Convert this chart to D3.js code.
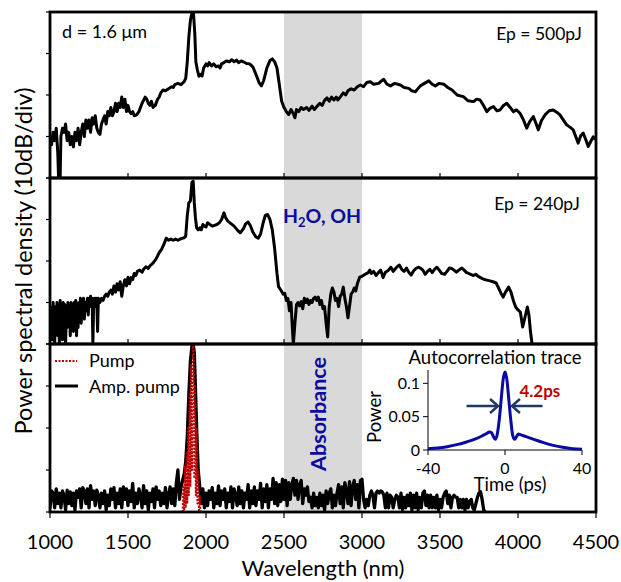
<!DOCTYPE html>
<html><head><meta charset="utf-8">
<script src="https://cdn.jsdelivr.net/npm/d3@7"></script>
<style>
body{margin:0;background:#fff;}
text{font-family:Lato,"Open Sans",sans-serif;}
</style>
</head><body>
<svg id="c" width="621" height="582"></svg>
<script>
// ---------------- DATA ----------------
const xTicks = [1000,1500,2000,2500,3000,3500,4000,4500];
const yTicksDb = [0,10,20,30,40];
const absorbBand = [2500,3000];
const panelLabels = ["Ep = 500pJ","Ep = 240pJ"];

// Ep = 500 pJ spectrum  [wavelength nm, relative dB]
const spectrum500 = [[1000,10],[1010,8],[1020,11],[1030,9],[1040,12],[1050,6],[1055,0],[1065,0],[1070,10],[1080,12],[1090,11],[1100,13],[1110,9],[1120,11],[1130,8],[1140,10],[1150,7.5],[1160,11],[1170,9],[1180,12],[1190,8],[1200,11],[1210,13],[1220,10],[1230,14],[1240,12],[1250,14],[1260,11],[1270,14.5],[1280,13],[1290,15],[1300,12],[1310,11],[1320,10.5],[1330,13],[1340,14],[1350,15],[1360,13],[1370,16],[1380,15],[1390,17],[1400,15],[1410,16],[1420,18],[1430,16],[1440,18],[1450,17],[1460,19.5],[1470,17],[1480,19],[1490,16],[1500,17.5],[1510,16],[1520,15.5],[1530,16],[1540,15],[1555,15.2],[1570,16],[1590,18],[1610,19.5],[1620,19],[1630,18],[1640,17.5],[1650,18.5],[1660,17],[1675,17.5],[1690,19],[1700,19.5],[1710,20.5],[1725,21.2],[1740,21],[1760,21.5],[1780,22],[1790,21.8],[1800,22.5],[1820,22.8],[1840,22.5],[1860,23.2],[1870,24],[1880,28],[1890,34],[1900,38],[1910,39.8],[1920,39.6],[1928,35],[1935,28],[1945,26],[1955,24.5],[1965,25],[1975,24.6],[1985,26.5],[2000,27.5],[2010,27],[2020,27.8],[2035,27],[2050,27.5],[2065,26.8],[2080,27],[2090,26.5],[2100,27.5],[2115,27.8],[2130,28.2],[2150,28],[2165,28.5],[2180,28],[2195,28.4],[2210,27.8],[2225,28.2],[2240,28],[2260,27.6],[2280,27.5],[2300,26.8],[2320,25],[2340,23],[2355,22.2],[2370,23.5],[2390,26.5],[2410,28.3],[2425,28.7],[2440,28],[2455,26.5],[2470,22.5],[2485,18.5],[2500,17],[2515,16],[2530,15.3],[2545,16.5],[2560,15.5],[2570,14.5],[2580,16.5],[2595,16],[2610,17],[2625,16.5],[2645,17],[2660,16.3],[2680,17.3],[2695,16.5],[2710,17.2],[2730,18],[2745,17.5],[2760,18.7],[2775,19.3],[2790,18.5],[2805,19.5],[2820,18.8],[2835,19.5],[2845,18.8],[2860,19.5],[2880,20.5],[2895,20],[2910,21],[2930,21.5],[2950,21.2],[2970,22],[2990,22.4],[3010,22],[3030,23],[3053,23.2],[3075,22.6],[3107,22.8],[3125,23.4],[3139,23.8],[3160,22.6],[3182,22.2],[3210,22.8],[3246,22.4],[3270,21.8],[3300,21.6],[3320,21],[3342,20.8],[3360,21.6],[3374,22.2],[3400,22.8],[3428,23.4],[3450,22.6],[3470,22.2],[3495,22.8],[3524,22.6],[3550,21.8],[3577,21.2],[3610,20],[3630,19.8],[3650,19.6],[3680,18.6],[3715,18.4],[3735,19],[3757,18.8],[3780,17.4],[3800,16],[3820,16.8],[3843,17.2],[3865,16.2],[3885,16.4],[3905,17.4],[3928,18],[3950,17],[3970,16],[3990,16.4],[4013,15.6],[4035,14],[4056,12],[4075,13.6],[4098,14.8],[4115,13.2],[4130,11.6],[4150,13.8],[4173,15.2],[4200,16.2],[4226,16.4],[4250,15.8],[4269,15.2],[4290,14],[4312,12.8],[4335,12.2],[4354,11.6],[4370,10],[4386,8.4],[4402,10.2],[4418,10.8],[4435,9.2],[4450,7.6],[4466,8.8],[4482,9.9],[4500,9.2]];

// Ep = 240 pJ spectrum
const spectrum240 = [[1000,9],[1005,3],[1010,8],[1015,1],[1020,10],[1025,5],[1030,0],[1035,9],[1040,4],[1045,10],[1050,2],[1055,8],[1060,0],[1065,10.5],[1070,6],[1075,9],[1080,1],[1085,10],[1090,3],[1095,9.5],[1100,0],[1105,8],[1110,4],[1115,10],[1120,6],[1125,9],[1130,2],[1135,10],[1140,5],[1145,9.5],[1150,3],[1155,10],[1160,7],[1165,10.5],[1170,2],[1175,9],[1180,4],[1185,10],[1190,6],[1195,11],[1200,5],[1205,10],[1210,7],[1215,11],[1220,6],[1225,10],[1230,8],[1240,11],[1245,7],[1250,10.5],[1260,11.5],[1265,9],[1270,11],[1275,0],[1280,10.5],[1285,11],[1290,9],[1295,11],[1300,10],[1305,3],[1310,11],[1320,10],[1330,11],[1340,10.5],[1350,11.5],[1360,12],[1370,11.5],[1380,12.5],[1390,13],[1400,12],[1410,14],[1420,12.5],[1430,14.5],[1440,13],[1450,15],[1460,11.5],[1470,14],[1480,15.5],[1490,14],[1500,16.1],[1510,14.5],[1520,16],[1530,15.5],[1540,17],[1550,16.5],[1560,17.5],[1575,17.8],[1590,17.3],[1600,18],[1615,18.6],[1630,18.2],[1640,18.8],[1660,19.5],[1680,20.5],[1700,22],[1715,22.8],[1730,24],[1745,25.5],[1760,25],[1775,25.3],[1790,25],[1805,25.3],[1820,25],[1840,25.4],[1860,25.6],[1870,26],[1880,31],[1890,34],[1900,34.5],[1910,39],[1918,39.2],[1925,34],[1932,30.5],[1940,28],[1950,27.5],[1960,28],[1970,27.5],[1980,28.8],[1990,28.4],[2000,28.2],[2010,29.2],[2025,28.8],[2040,28.4],[2055,28.6],[2070,28.8],[2085,29.2],[2100,30],[2115,31.6],[2125,30.5],[2140,29.6],[2160,29],[2180,28.4],[2200,27.5],[2220,26.8],[2240,27.8],[2255,29],[2270,29.4],[2285,28.5],[2300,27],[2320,25.8],[2335,25.5],[2350,26.5],[2365,29],[2380,31],[2395,31.2],[2410,30],[2425,27.5],[2440,23],[2455,17],[2465,13.8],[2480,13],[2495,12],[2505,12.2],[2515,10.5],[2525,11],[2535,8],[2545,10],[2555,3],[2560,0],[2570,5],[2580,9.5],[2590,10],[2600,9.2],[2610,10.2],[2620,8.5],[2630,11],[2640,10],[2650,10.8],[2660,9.5],[2670,10.5],[2680,10],[2690,11],[2700,11.3],[2710,10.5],[2720,11.3],[2730,9.5],[2740,10.5],[2750,8.5],[2760,9],[2770,5],[2780,1.7],[2790,9],[2800,12],[2810,13.5],[2820,12.5],[2830,10.5],[2840,11],[2850,9],[2860,11.5],[2870,12],[2880,13.7],[2890,11],[2900,9],[2910,6.3],[2920,9],[2930,12],[2940,12.5],[2950,13.5],[2960,12.8],[2970,14.5],[2985,16.1],[3000,16.3],[3020,16.8],[3040,17.2],[3050,17.8],[3060,17],[3075,17.5],[3090,16.5],[3105,17.2],[3120,17.8],[3135,16],[3150,17.3],[3170,17.8],[3185,18.5],[3200,17.5],[3215,18.2],[3230,18.8],[3240,19],[3255,18],[3270,17.5],[3285,18.3],[3300,17.3],[3315,16.6],[3330,17.6],[3345,18.2],[3360,18.5],[3375,18.3],[3390,17.8],[3405,16.8],[3420,17.5],[3435,18],[3450,17.2],[3465,18],[3480,18.5],[3495,17.8],[3510,17],[3530,16.8],[3545,17.5],[3560,18.3],[3575,18.2],[3590,17.8],[3605,17.3],[3620,17.8],[3640,18.3],[3655,17.8],[3670,17.2],[3685,17],[3700,16.7],[3715,16.5],[3730,16.8],[3745,16.3],[3760,16],[3780,15.6],[3800,15.4],[3820,15.2],[3840,15],[3860,14.7],[3875,13.5],[3890,12.3],[3905,11.3],[3920,12.5],[3940,13.7],[3955,12.5],[3970,10.5],[3985,8.9],[4000,8.2],[4015,7.7],[4030,4.1],[4045,6.5],[4060,8.9],[4070,7],[4080,3],[4090,0]];

// Amplified pump
const ampPump = [[1000,1],[1010,5],[1020,4.5],[1030,1],[1040,5.5],[1050,2],[1060,4.5],[1070,1],[1080,5],[1090,4],[1100,0.5],[1110,5.2],[1120,2],[1130,4.8],[1140,1.5],[1150,4.5],[1160,0.5],[1170,5],[1180,3.5],[1190,5.5],[1200,1],[1210,5.8],[1220,5],[1230,2],[1240,5.5],[1250,1],[1260,6.3],[1270,3],[1280,5],[1290,1.5],[1300,5.2],[1310,4],[1320,1],[1330,4.5],[1340,2],[1350,5],[1360,0.5],[1370,4],[1380,1.5],[1390,5.5],[1400,3],[1410,5.8],[1420,1],[1430,4.5],[1440,2],[1450,5.5],[1460,1],[1470,6],[1480,3],[1490,5.5],[1500,1.5],[1510,5],[1520,2.5],[1530,6.8],[1540,1],[1550,4.5],[1560,2],[1570,5.5],[1580,4],[1590,1],[1600,6.3],[1610,2],[1620,5],[1630,0.5],[1640,4.5],[1650,2.5],[1660,5.5],[1670,1],[1680,6],[1690,3],[1700,5],[1710,1.5],[1720,4.5],[1730,2],[1740,5.8],[1750,1],[1760,4],[1770,6],[1780,2],[1790,5.5],[1800,1.5],[1810,7],[1820,10],[1830,3],[1840,6],[1850,7.5],[1860,9],[1870,12],[1880,18],[1890,28],[1900,36],[1910,39.5],[1918,39.8],[1925,38],[1932,30],[1940,20],[1950,10],[1960,6],[1970,2],[1980,5.5],[1990,1],[2000,4.5],[2010,1.5],[2020,5],[2030,3],[2040,5.8],[2050,1],[2060,4.5],[2070,2],[2080,6.2],[2090,1.5],[2100,5],[2110,3],[2120,5.5],[2130,1],[2140,4.5],[2150,2.5],[2160,6],[2170,1],[2180,5.5],[2190,4],[2200,1.5],[2210,6],[2220,2],[2230,5],[2240,1],[2250,4.5],[2260,3],[2270,6.5],[2280,1],[2290,5],[2300,2],[2310,6],[2320,1.5],[2330,5],[2340,3],[2350,6.8],[2360,1],[2370,5.5],[2380,2.5],[2390,6.5],[2400,1],[2410,5.5],[2420,3],[2430,8],[2440,2],[2450,7],[2460,1.5],[2470,6.5],[2480,2.5],[2490,7.8],[2500,3],[2510,7.5],[2520,1.5],[2530,7],[2540,3],[2550,6.5],[2560,8],[2570,4],[2580,7.5],[2590,3],[2600,6.5],[2610,7.5],[2620,2],[2630,5.5],[2640,4],[2650,6],[2660,2.5],[2670,3.5],[2680,1],[2690,4.5],[2700,1.5],[2710,3.5],[2720,1],[2730,4.5],[2740,1.5],[2750,4],[2760,0.5],[2770,5],[2780,2],[2790,4.5],[2800,5.5],[2810,1],[2820,4],[2830,1.5],[2840,4.5],[2850,6.5],[2860,2],[2870,6],[2880,1],[2890,7],[2900,5],[2910,2],[2920,7.2],[2930,1.5],[2940,6],[2950,7.5],[2960,3],[2970,6.5],[2980,1],[2990,7.5],[3000,7.8],[3010,3],[3020,1],[3030,3],[3040,1.5],[3050,4],[3060,5],[3070,4],[3080,1],[3090,4.5],[3100,5],[3110,4.5],[3120,5],[3130,4.8],[3140,4],[3150,1],[3160,4.5],[3170,1],[3180,4],[3190,3.5],[3200,1],[3210,3],[3220,4],[3230,3.5],[3240,1],[3250,4.5],[3260,0.5],[3270,3.5],[3280,1],[3290,4],[3300,1.5],[3310,4.5],[3320,0.5],[3330,4],[3340,1],[3350,4.5],[3360,0.5],[3370,3.5],[3380,1],[3390,4.5],[3400,5],[3410,1.5],[3420,4],[3430,1],[3440,4],[3450,1],[3460,3.5],[3470,1],[3480,4],[3490,0.5],[3500,3],[3510,1],[3520,3.5],[3530,4.5],[3540,5],[3550,2],[3560,4],[3570,1],[3580,3.5],[3590,4],[3600,3.5],[3610,3.5],[3620,1],[3630,3],[3640,1],[3650,3],[3660,0.5],[3670,3],[3680,1],[3690,2.5],[3700,3],[3710,1],[3720,0.5],[3730,2],[3740,3.5],[3750,4.5],[3760,4.8],[3770,3],[3780,0.5],[3790,0]];

// Seed pump
const pump = [[1850,0],[1855,6],[1860,0],[1865,11],[1870,1],[1875,14],[1880,2],[1885,20],[1890,4],[1895,28],[1900,6],[1905,35],[1910,10],[1915,39],[1918,40],[1922,38],[1925,8],[1930,30],[1935,4],[1940,20],[1945,2],[1950,10],[1955,0],[1960,4],[1965,0]];

// Autocorrelation trace
const acTime  = [-40,-35,-30,-25,-20,-15,-12,-10,-8,-7,-6,-5,-4,-3,-2,-1,0,1,2,3,4,5,6,7,8,10,12,15,20,25,30,35,40];
const acPower = [0.002,0.003,0.005,0.008,0.012,0.017,0.021,0.024,0.027,0.026,0.02,0.016,0.024,0.045,0.075,0.105,0.117,0.105,0.075,0.045,0.022,0.016,0.02,0.024,0.023,0.021,0.019,0.016,0.011,0.007,0.004,0.002,0.001];
const acXTicks = [-40,0,40];
const acYTicks = [0,0.05,0.1];
const acArrows = [[-20,-3.6],[19.5,3.6]];
const acArrowLevel = 0.066;
const fwhmLabel = "4.2ps";

// ---------------- DRAW ----------------
const svg = d3.select("#c");
const L = 50, R = 596;
const panels = [{t:12,b:178},{t:178,b:344},{t:344,b:512}];
const x = d3.scaleLinear().domain([1000,4500]).range([L,R]);
const ys = panels.map(p => d3.scaleLinear().domain([0,40]).range([p.b,p.t]));

// absorbance band
svg.append("rect").attr("x",x(absorbBand[0])).attr("y",panels[0].t)
  .attr("width",x(absorbBand[1])-x(absorbBand[0])).attr("height",panels[2].b-panels[0].t)
  .attr("fill","#d9d9d9");

// clip paths
panels.forEach((p,i)=>{
  svg.append("clipPath").attr("id","clip"+i).append("rect")
    .attr("x",L).attr("y",p.t).attr("width",R-L).attr("height",p.b-p.t);
});

function drawLine(data,i,stroke,w,dash){
  const line = d3.line().x(d=>x(d[0])).y(d=>ys[i](d[1]));
  const p = svg.append("path").datum(data).attr("d",line)
    .attr("fill","none").attr("stroke",stroke).attr("stroke-width",w)
    .attr("stroke-linejoin","round").attr("stroke-linecap","round")
    .attr("clip-path","url(#clip"+i+")");
  if(dash) p.attr("stroke-dasharray",dash).attr("stroke-linecap","butt");
}
drawLine(spectrum500,0,"#000",3);
drawLine(spectrum240,1,"#000",3);
drawLine(ampPump,2,"#000",3.3);
drawLine(pump,2,"#c00000",2,"2,1.5");

// frames & axes
panels.forEach((p,i)=>{
  const g = svg.append("g");
  yTicksDb.forEach(v=>{
    g.append("line").attr("x1",L-4).attr("x2",L).attr("y1",ys[i](v)).attr("y2",ys[i](v))
      .attr("stroke","#000").attr("stroke-width",1.2);
  });
  xTicks.forEach(v=>{
    const inward = i<2;
    g.append("line").attr("x1",x(v)).attr("x2",x(v))
      .attr("y1",p.b).attr("y2", inward ? p.b-5 : p.b+6)
      .attr("stroke","#000").attr("stroke-width",1.2);
  });
  g.append("rect").attr("x",L).attr("y",p.t).attr("width",R-L).attr("height",p.b-p.t)
    .attr("fill","none").attr("stroke","#000").attr("stroke-width",2.8);
});

// x tick labels
svg.append("g").selectAll("text").data(xTicks).join("text")
  .attr("x",d=>x(d)).attr("y",549).attr("text-anchor","middle")
  .attr("font-size",20).attr("fill","#000").text(d=>d);
svg.append("text").attr("x",(L+R)/2).attr("y",576).attr("text-anchor","middle")
  .attr("font-size",22).text("Wavelength (nm)");
svg.append("text").attr("transform","translate(32,261) rotate(-90)")
  .attr("text-anchor","middle").attr("font-size",23.5).text("Power spectral density (10dB/div)");

// annotations
svg.append("text").attr("x",62).attr("y",38).attr("font-size",18).text("d = 1.6 μm");
svg.append("text").attr("x",582).attr("y",40).attr("text-anchor","end").attr("font-size",17.5).text(panelLabels[0]);
svg.append("text").attr("x",580).attr("y",210).attr("text-anchor","end").attr("font-size",17.5).text(panelLabels[1]);
const h2o = svg.append("text").attr("x",283).attr("y",223).attr("font-size",19.5)
  .attr("font-weight","bold").attr("fill","#0a0aa0");
h2o.append("tspan").text("H");
h2o.append("tspan").attr("font-size",13).attr("dy",4).text("2");
h2o.append("tspan").attr("dy",-4).text("O, OH");
svg.append("text").attr("transform","translate(326,414) rotate(-90)")
  .attr("text-anchor","middle").attr("font-size",21.5).attr("font-weight","bold")
  .attr("fill","#0a0aa0").text("Absorbance");

// legend
svg.append("line").attr("x1",55).attr("x2",77).attr("y1",361).attr("y2",361)
  .attr("stroke","#c00000").attr("stroke-width",2).attr("stroke-dasharray","2,1.5");
svg.append("text").attr("x",89).attr("y",367).attr("font-size",18).text("Pump");
svg.append("line").attr("x1",55).attr("x2",78).attr("y1",386).attr("y2",386)
  .attr("stroke","#000").attr("stroke-width",3);
svg.append("text").attr("x",89).attr("y",393).attr("font-size",18).text("Amp. pump");

// inset
const ix = d3.scaleLinear().domain([-40,40]).range([428,582]);
const iy = d3.scaleLinear().domain([0,0.12]).range([450,370]);
const ig = svg.append("g");
ig.append("line").attr("x1",ix(-40)).attr("x2",ix(-40)).attr("y1",iy(0)).attr("y2",370).attr("stroke","#000").attr("stroke-width",1);
ig.append("line").attr("x1",ix(-40)).attr("x2",ix(40)).attr("y1",iy(0)).attr("y2",iy(0)).attr("stroke","#000").attr("stroke-width",1);
acYTicks.forEach(v=>{
  ig.append("line").attr("x1",ix(-40)-5).attr("x2",ix(-40)).attr("y1",iy(v)).attr("y2",iy(v)).attr("stroke","#000");
  ig.append("text").attr("x",ix(-40)-8).attr("y",iy(v)+5.5).attr("text-anchor","end").attr("font-size",16).text(v);
});
acXTicks.forEach(v=>{
  ig.append("line").attr("x1",ix(v)).attr("x2",ix(v)).attr("y1",iy(0)).attr("y2",iy(0)+5).attr("stroke","#000");
  ig.append("text").attr("x",ix(v)).attr("y",474).attr("text-anchor","middle").attr("font-size",16).text(v);
});
ig.append("text").attr("x",510).attr("y",491).attr("text-anchor","middle").attr("font-size",18.5).text("Time (ps)");
ig.append("text").attr("transform","translate(381,417) rotate(-90)").attr("text-anchor","middle").attr("font-size",18.5).text("Power");
ig.append("text").attr("x",495).attr("y",364).attr("text-anchor","middle").attr("font-size",18.5).text("Autocorrelation trace");
const acData = acTime.map((t,i)=>[t,acPower[i]]);
ig.append("path").datum(acData)
  .attr("d",d3.line().x(d=>ix(d[0])).y(d=>iy(d[1])).curve(d3.curveMonotoneX))
  .attr("fill","none").attr("stroke","#0a0aa0").attr("stroke-width",3);
const arrowCol = "#203864";
acArrows.forEach(([a,b])=>{
  const y0 = iy(acArrowLevel);
  const x0 = ix(a), x1 = ix(b);
  const dir = Math.sign(x1-x0);
  ig.append("line").attr("x1",x0).attr("x2",x1).attr("y1",y0).attr("y2",y0)
    .attr("stroke",arrowCol).attr("stroke-width",2.5);
  ig.append("path").attr("d",`M${x1-dir*8},${y0-7} L${x1},${y0} L${x1-dir*8},${y0+7}`)
    .attr("fill","none").attr("stroke",arrowCol).attr("stroke-width",2.5).attr("stroke-linejoin","miter");
});
ig.append("text").attr("x",ix(7.5)).attr("y",iy(0.079)).attr("font-size",17)
  .attr("font-weight","bold").attr("fill","#c00000").text(fwhmLabel);
</script>
</body></html>
